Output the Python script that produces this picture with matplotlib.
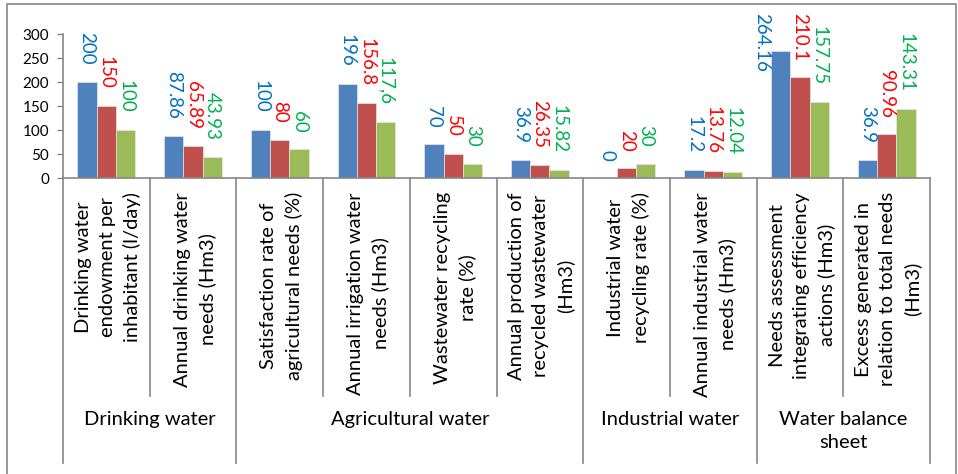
import matplotlib.pyplot as plt
import matplotlib.transforms as mtransforms
from matplotlib.patches import Rectangle
import numpy as np

plt.rcParams['font.family'] = ['Lato', 'DejaVu Sans']

categories = [
    "Drinking water\nendowment per\ninhabitant (l/day)",
    "Annual drinking water\nneeds (Hm3)",
    "Satisfaction rate of\nagricultural needs (%)",
    "Annual irrigation water\nneeds (Hm3)",
    "Wastewater recycling\nrate (%)",
    "Annual production of\nrecycled wastewater\n(Hm3)",
    "Industrial water\nrecycling rate (%)",
    "Annual industrial water\nneeds (Hm3)",
    "Needs assessment\nintegrating efficiency\nactions (Hm3)",
    "Excess generated in\nrelation to total needs\n(Hm3)",
]
groups = ["Drinking water", "Agricultural water", "Industrial water", "Water balance\nsheet"]
group_spans = [(0, 1), (2, 5), (6, 7), (8, 9)]

series_a = [200, 87.86, 100, 196, 70, 36.9, 0, 17.2, 264.16, 36.9]
series_b = [150, 65.89, 80, 156.8, 50, 26.35, 20, 13.76, 210.1, 90.96]
series_c = [100, 43.93, 60, 117.6, 30, 15.82, 30, 12.04, 157.75, 143.31]

bar_colors = ['#4F81BD', '#C0504D', '#9BBB59']
label_colors = ['#0070C0', '#FF0000', '#00B050']
comma_decimal = {(3, 2)}          # label written as 117,6
label_nudge = {(8, 0): -1.0}      # shift in bar widths

W, H, DPI = 958, 474, 100
fig = plt.figure(figsize=(W / DPI, H / DPI), dpi=DPI)
ax = fig.add_axes([63 / W, 1 - 178 / H, (930 - 63) / W, (178 - 34) / H])

# outer chart frame
fig.patches.append(Rectangle((7 / W, -0.1), (956 - 7) / W, 1.1 - 4 / H,
                             transform=fig.transFigure, fill=False,
                             edgecolor='#868686', linewidth=1.2))

x = np.arange(len(categories))
bw = 1 / 4.5
labels = []
for k, vals in enumerate([series_a, series_b, series_c]):
    xs = x + (k - 1) * bw
    ax.bar(xs, vals, width=bw, color=bar_colors[k], edgecolor='#e6e6e6', linewidth=0.5)
    for i, (xi, v) in enumerate(zip(xs, vals)):
        txt = f"{v:g}"
        if (i, k) in comma_decimal:
            txt = txt.replace('.', ',')
        xi = xi + label_nudge.get((i, k), 0) * bw
        a = ax.annotate(txt, (xi, v), xytext=(0, 12.2), textcoords='offset points',
                        rotation=-90, ha='center', va='bottom',
                        color=label_colors[k], fontsize=13.5, annotation_clip=False)
        labels.append(a)

ax.set_xlim(-0.5, len(categories) - 0.5)
ax.set_ylim(0, 300)
ax.set_yticks(range(0, 301, 50))
ax.set_xticks([])
ax.tick_params(axis='y', length=4, width=1, color='#868686', labelsize=11, pad=6)
for s in ['top', 'right']:
    ax.spines[s].set_visible(False)
for s in ['left', 'bottom']:
    ax.spines[s].set_color('#868686')
    ax.spines[s].set_linewidth(1.2)

# category separators and labels below the axis
tr = mtransforms.blended_transform_factory(ax.transData, fig.transFigure)
edges = [g[0] - 0.5 for g in group_spans] + [len(categories) - 0.5]
for b in np.arange(-0.5, len(categories), 1.0):
    bottom = 463 if b in edges else 396
    ax.plot([b, b], [1 - 178 / H, 1 - bottom / H], transform=tr, color='#868686',
            linewidth=1.2, clip_on=False)
for i, c in enumerate(categories):
    ax.text(i + 0.02, 1 - 192 / H, c, transform=tr, rotation=90, ha='center', va='top',
            multialignment='center', fontsize=14.5, linespacing=1.5)
for (a0, a1), g in zip(group_spans, groups):
    ax.text((a0 + a1) / 2, 1 - 411 / H, g, transform=tr, ha='center', va='top',
            multialignment='center', fontsize=14.5, linespacing=1.45)

# keep value labels inside the chart frame
fig.canvas.draw()
r = fig.canvas.get_renderer()
for a in labels:
    bb = a.get_window_extent(r)
    if bb.y1 > H - 13:
        dx, dy = a.xyann
        a.xyann = (dx, dy - (bb.y1 - (H - 13)) * 72 / DPI)

fig.savefig('out.png', dpi=DPI)
